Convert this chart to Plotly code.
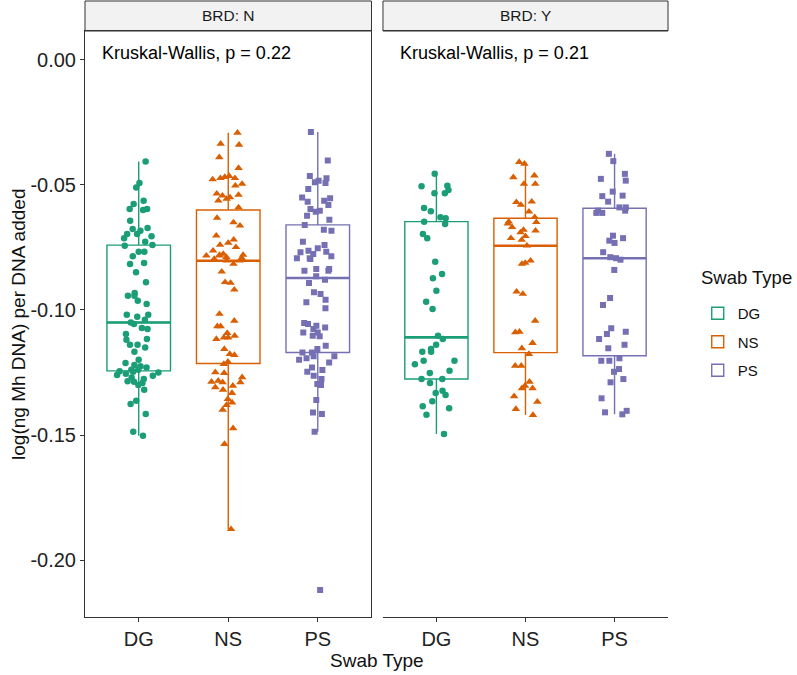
import statistics
import plotly.graph_objects as go

# ---------------- data ----------------
categories = ["DG", "NS", "PS"]
panels = ["N", "Y"]
panel_titles = ["BRD: N", "BRD: Y"]
kw_labels = ["Kruskal-Wallis, p = 0.22", "Kruskal-Wallis, p = 0.21"]

DG_N = [-0.0407, -0.0492, -0.0510, -0.0563, -0.0576, -0.0596, -0.0600, -0.0596, -0.0643,
        -0.0683, -0.0672, -0.0676, -0.0696, -0.0705, -0.0713, -0.0696, -0.0727, -0.0740,
        -0.0743, -0.0767, -0.0767, -0.0785, -0.0812, -0.0816, -0.0849, -0.0889, -0.0932,
        -0.0943, -0.0943, -0.0963, -0.0976, -0.1027, -0.1019, -0.1019, -0.1039, -0.1050,
        -0.1056, -0.1076, -0.1072, -0.1096, -0.1116, -0.1119, -0.1139, -0.1139, -0.1150,
        -0.1167, -0.1199, -0.1212, -0.1225, -0.1220, -0.1239, -0.1247, -0.1239, -0.1230,
        -0.1263, -0.1270, -0.1276, -0.1292, -0.1287, -0.1319, -0.1363, -0.1376, -0.1416,
        -0.1487, -0.1503, -0.1245, -0.1255, -0.1260, -0.1285, -0.1300, -0.1250]

NS_N = [-0.0292, -0.0336, -0.0340, -0.0390, -0.0433, -0.0465, -0.0473, -0.0473, -0.0469,
        -0.0503, -0.0496, -0.0543, -0.0550, -0.0540, -0.0556, -0.0563, -0.0632, -0.0650,
        -0.0663, -0.0703, -0.0719, -0.0732, -0.0749, -0.0740, -0.0763, -0.0780, -0.0783,
        -0.0783, -0.0780, -0.0776, -0.0789, -0.0793, -0.0796, -0.0803, -0.0803, -0.0816,
        -0.0847, -0.0892, -0.0889, -0.0919, -0.1016, -0.1043, -0.1065, -0.1065, -0.1092,
        -0.1103, -0.1116, -0.1110, -0.1110, -0.1156, -0.1176, -0.1180, -0.1216, -0.1207,
        -0.1249, -0.1252, -0.1269, -0.1287, -0.1289, -0.1283, -0.1289, -0.1303, -0.1309,
        -0.1319, -0.1332, -0.1370, -0.1356, -0.1380, -0.1399, -0.1473, -0.1536, -0.1876,
        -0.0478, -0.0535, -0.0590]

PS_N = [-0.0289, -0.0403, -0.0465, -0.0473, -0.0483, -0.0492, -0.0489, -0.0516, -0.0550,
        -0.0553, -0.0563, -0.0567, -0.0580, -0.0603, -0.0607, -0.0596, -0.0623, -0.0639,
        -0.0660, -0.0679, -0.0683, -0.0727, -0.0740, -0.0753, -0.0763, -0.0769, -0.0767,
        -0.0776, -0.0785, -0.0796, -0.0793, -0.0793, -0.0836, -0.0843, -0.0836, -0.0843,
        -0.0865, -0.0879, -0.0892, -0.0929, -0.0936, -0.0959, -0.0969, -0.0993, -0.1052,
        -0.1056, -0.1063, -0.1070, -0.1076, -0.1090, -0.1090, -0.1103, -0.1105, -0.1143,
        -0.1156, -0.1170, -0.1170, -0.1185, -0.1185, -0.1193, -0.1199, -0.1210, -0.1230,
        -0.1247, -0.1240, -0.1263, -0.1276, -0.1296, -0.1300, -0.1360, -0.1410, -0.1416,
        -0.1487, -0.2119]

DG_Y = [-0.0456, -0.0505, -0.0503, -0.0520, -0.0533, -0.0533, -0.0592, -0.0605, -0.0633,
        -0.0629, -0.0647, -0.0656, -0.0696, -0.0713, -0.0807, -0.0856, -0.0873, -0.0923,
        -0.0967, -0.0996, -0.1103, -0.1116, -0.1139, -0.1156, -0.1167, -0.1167, -0.1203,
        -0.1203, -0.1217, -0.1243, -0.1252, -0.1276, -0.1276, -0.1292, -0.1323, -0.1332,
        -0.1340, -0.1365, -0.1385, -0.1393, -0.1419, -0.1496]

NS_Y = [-0.0416, -0.0409, -0.0463, -0.0470, -0.0496, -0.0496, -0.0567, -0.0569, -0.0580,
        -0.0607, -0.0629, -0.0647, -0.0649, -0.0669, -0.0680, -0.0683, -0.0705, -0.0713,
        -0.0743, -0.0816, -0.0812, -0.0803, -0.0936, -0.0927, -0.1043, -0.1089, -0.1087,
        -0.1132, -0.1153, -0.1176, -0.1223, -0.1223, -0.1287, -0.1313, -0.1313, -0.1303,
        -0.1345, -0.1367, -0.1396, -0.1420, -0.0655, -0.0690, -0.0720]

PS_Y = [-0.0376, -0.0405, -0.0456, -0.0483, -0.0476, -0.0527, -0.0545, -0.0543, -0.0567,
        -0.0590, -0.0590, -0.0603, -0.0603, -0.0612, -0.0612, -0.0703, -0.0713, -0.0723,
        -0.0732, -0.0769, -0.0793, -0.0799, -0.0789, -0.0840, -0.0952, -0.0980, -0.1073,
        -0.1087, -0.1096, -0.1116, -0.1139, -0.1153, -0.1193, -0.1203, -0.1203, -0.1236,
        -0.1247, -0.1276, -0.1289, -0.1353, -0.1409, -0.1403, -0.1417]

y_tickvals = [0.0, -0.05, -0.10, -0.15, -0.20]
y_ticktext = ["0.00", "-0.05", "-0.10", "-0.15", "-0.20"]

data = {("N", "DG"): DG_N, ("N", "NS"): NS_N, ("N", "PS"): PS_N,
        ("Y", "DG"): DG_Y, ("Y", "NS"): NS_Y, ("Y", "PS"): PS_Y}

# ---------------- styles ----------------
colors = {"DG": "#1B9E77", "NS": "#D95F02", "PS": "#7570B3"}
symbols = {"DG": "circle", "NS": "triangle-up", "PS": "square"}
msizes = {"DG": 6.5, "NS": 7.5, "PS": 6}
FONT = "Liberation Sans, Arial, sans-serif"
axis_ids = {"N": "x", "Y": "x2"}
BOX_W = 0.71

fig = go.Figure()
for p in panels:
    for i, c in enumerate(categories):
        vals = data[(p, c)]
        fig.add_trace(go.Box(
            y=vals, x=[c] * len(vals),
            xaxis=axis_ids[p], yaxis="y",
            name=c, legendgroup=c, showlegend=(p == "N"),
            boxpoints="all", jitter=0.7, pointpos=0,
            width=BOX_W, whiskerwidth=0,
            fillcolor="rgba(255,255,255,0)",
            line=dict(color=colors[c], width=1.4),
            marker=dict(symbol=symbols[c], size=msizes[c], color=colors[c], opacity=1,
                        line=dict(width=0)),
            hoverinfo="y",
        ))
        # ggplot draws the median line thicker than the box outline
        med = statistics.median(vals)
        fig.add_shape(type="line", xref=axis_ids[p], yref="y",
                      x0=i - BOX_W / 2, x1=i + BOX_W / 2, y0=med, y1=med,
                      line=dict(color=colors[c], width=2.6), layer="below")

xdom_left = [0.0, 0.4914]
xdom_right = [0.5111, 1.0]
common_x = dict(type="category", categoryorder="array", categoryarray=categories,
                range=[-0.6, 2.6], showgrid=False, zeroline=False, automargin=False,
                showline=True, mirror=True, linecolor="#333333", linewidth=1,
                ticks="outside", ticklen=4, tickcolor="#333333",
                tickfont=dict(family=FONT, size=20, color="#222222"), anchor="y")

fig.update_layout(
    width=797, height=675,
    paper_bgcolor="white", plot_bgcolor="white",
    margin=dict(l=85, r=129, t=31, b=58, autoexpand=False),
    xaxis=dict(domain=xdom_left, **common_x),
    xaxis2=dict(domain=xdom_right, **common_x),
    yaxis=dict(range=[-0.2227, 0.0115], tickvals=y_tickvals, ticktext=y_ticktext,
               showgrid=False, zeroline=False, showline=True, mirror=True,
               automargin=False,
               linecolor="#333333", linewidth=1, ticks="outside", ticklen=4,
               tickcolor="#333333",
               tickfont=dict(family=FONT, size=20, color="#222222")),
    showlegend=True,
    legend=dict(font=dict(family=FONT, size=15, color="#111111"),
                x=1.051, xanchor="left", y=0.546, yanchor="top",
                bgcolor="rgba(0,0,0,0)", tracegroupgap=6),
    font=dict(family=FONT),
)

# legend title
fig.add_annotation(xref="paper", yref="paper", x=1.053, y=0.5785, text="Swab Type",
                   showarrow=False, xanchor="left", yanchor="middle",
                   font=dict(family=FONT, size=18.5, color="#111111"))

# strips (facet headers)
strip_h = 30 / 586
for dom, title in zip([xdom_left, xdom_right], panel_titles):
    fig.add_shape(type="rect", xref="paper", yref="paper",
                  x0=dom[0], x1=dom[1], y0=1.0, y1=1.0 + strip_h,
                  fillcolor="#F2F2F2", line=dict(color="#333333", width=1), layer="below")
    fig.add_annotation(xref="paper", yref="paper", x=(dom[0] + dom[1]) / 2,
                       y=1.0 + strip_h / 2, text=title, showarrow=False,
                       xanchor="center", yanchor="middle",
                       font=dict(family=FONT, size=15.5, color="#1A1A1A"))

# Kruskal-Wallis labels
for ax, lab in zip(["x", "x2"], kw_labels):
    fig.add_annotation(xref=ax, yref="y", x=-0.43, y=0.0026, text=lab, showarrow=False,
                       xanchor="left", yanchor="middle",
                       font=dict(family=FONT, size=18, color="#000000"))

# axis titles
fig.add_annotation(xref="paper", yref="paper", x=0.5, y=-0.0734, text="Swab Type",
                   showarrow=False, xanchor="center", yanchor="middle",
                   font=dict(family=FONT, size=19, color="#111111"))
fig.add_annotation(xref="paper", yref="paper", x=-0.115, y=0.5,
                   text="log(ng Mh DNA) per DNA added", textangle=-90, showarrow=False,
                   xanchor="center", yanchor="middle",
                   font=dict(family=FONT, size=19, color="#111111"))

fig.write_html("out.html", config={"displayModeBar": False},
               post_script="document.body.style.margin='0';document.body.style.padding='0';")
